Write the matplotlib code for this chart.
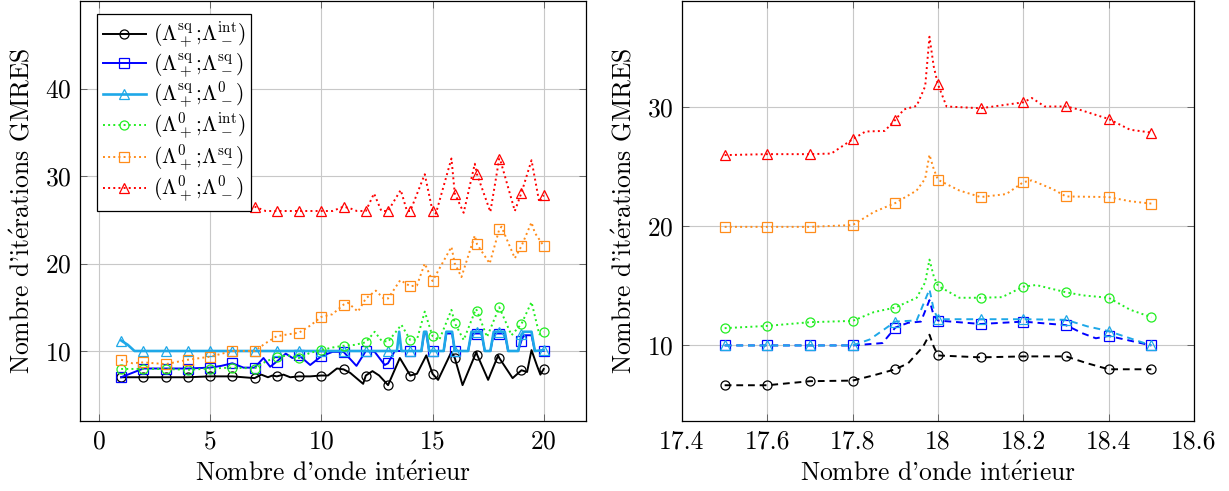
import numpy as np
import matplotlib
matplotlib.use("Agg")
import matplotlib.pyplot as plt

plt.rcParams['font.family'] = ['cmr10', 'DejaVu Serif']
plt.rcParams['mathtext.fontset'] = 'cm'
plt.rcParams['axes.unicode_minus'] = False
plt.rcParams['axes.formatter.use_mathtext'] = True

# ---------------- Left panel data ----------------
bk_x = [1, 2, 3, 4, 4.5, 5, 6, 6.5, 7, 7.3, 7.6, 7.8, 8, 8.3, 8.6, 9, 9.5, 10, 10.3, 10.7, 11, 11.3, 11.88,
        12, 12.3, 12.6, 13, 13.53, 14, 14.3, 14.72, 15, 15.25, 15.85, 16, 16.35, 16.97, 17, 17.5, 17.95, 18,
        18.6, 19, 19.25, 19.45, 19.7, 19.85, 20]
bk_y = [7.0, 7.0, 7.0, 7.0, 7.05, 7.1, 7.1, 7.0, 6.9, 7.3, 7.0, 7.2, 7.1, 7.3, 7.0, 7.1, 7.1, 7.2, 7.2, 8.0, 7.9, 7.5, 6.25,
        7.2, 7.7, 7.2, 6.1, 9.2, 7.2, 7.4, 9.5, 7.4, 6.7, 9.9, 9.2, 6.1, 9.9, 9.6, 6.7, 9.5, 9.2,
        6.9, 7.8, 7.6, 10.1, 8.3, 7.3, 7.95]

bl_x = [1, 1.5, 2, 3, 4, 5, 5.5, 6, 6.5, 7, 7.4, 7.7, 8, 8.4, 8.7, 9, 9.5, 10, 10.5, 11, 11.58, 12, 12.4, 12.85,
        13, 13.3, 14, 14.5, 14.62, 14.72, 14.85, 15, 15.5, 15.62, 15.88, 16, 16.6, 16.75, 17, 17.2, 17.35, 17.6,
        17.75, 18, 18.25, 18.4, 18.85, 19, 19.1, 19.45, 19.6, 20]
bl_y = [7.0, 7.5, 8.0, 8.0, 8.0, 8.1, 8.3, 8.6, 8.1, 8.1, 9.2, 8.2, 8.8, 9.7, 9.2, 9.5, 8.4, 9.4, 9.9, 9.9, 8.3, 10.0, 9.9, 8.4,
        8.6, 10.0, 10.0, 10.0, 12.0, 12.0, 10.0, 10.0, 10.0, 12.0, 12.0, 10.0, 10.0, 12.0, 12.0, 12.0, 10.0, 10.0,
        12.0, 12.0, 12.0, 10.0, 10.0, 11.2, 11.8, 11.8, 10.0, 10.0]

cy_x = [1, 1.3, 1.6, 2, 3, 4, 5, 6, 7, 8, 9, 10, 11, 12, 13, 13.4, 13.5, 13.6, 14, 14.5, 14.62, 14.72, 14.85, 15,
        15.5, 15.62, 15.88, 16, 16.6, 16.75, 17, 17.2, 17.35, 17.6, 17.75, 18, 18.25, 18.4, 18.85, 19, 19.1,
        19.45, 19.6, 20]
cy_y = [11.2, 10.7, 10.0, 10.0, 10.0, 10.0, 10.0, 10.0, 10.0, 10.0, 10.0, 10.0, 10.0, 10.0, 10.0, 10.0, 12.2, 10.0, 10.0,
        10.0, 12.2, 12.2, 10.0, 10.0, 10.0, 12.2, 12.2, 10.0, 10.0, 12.2, 12.2, 12.2, 10.0, 10.0, 12.2, 12.2, 12.2,
        10.0, 10.0, 11.9, 12.2, 12.2, 10.0, 10.1]

gr_x = [1, 2, 3, 4, 5, 6, 7, 7.5, 8, 8.5, 9, 9.5, 10, 10.5, 11, 11.5, 12, 12.4, 12.7, 13, 13.6, 14, 14.3, 14.65,
        15, 15.3, 15.85, 16, 16.4, 16.95, 17, 17.45, 18, 18.55, 19, 19.45, 19.8, 20]
gr_y = [7.95, 7.95, 7.95, 7.85, 8.0, 8.1, 8.0, 8.8, 9.3, 9.5, 9.2, 9.8, 10.1, 10.4, 10.6, 10.7, 11.0, 12.2, 11.2, 11.05,
        13.0, 11.25, 11.3, 14.5, 11.7, 11.25, 14.7, 13.2, 11.25, 14.8, 14.6, 11.6, 15.0, 11.8, 13.1, 15.6, 11.9, 12.2]

or_x = [1, 1.5, 2, 3, 4, 5, 6, 7, 7.5, 8, 8.5, 9, 9.5, 10, 10.5, 11, 11.2, 11.65, 12, 12.45, 12.8, 13, 13.55, 14,
        14.3, 14.65, 15, 15.85, 16, 16.3, 16.9, 17, 17.57, 18, 18.1, 18.7, 19, 19.45, 19.6, 20]
or_y = [9.0, 8.6, 8.7, 8.5, 9.0, 9.35, 10.0, 10.0, 10.9, 11.7, 11.9, 12.1, 12.9, 13.9, 14.2, 15.3, 15.5, 14.5, 16.0, 16.9,
        16.0, 16.0, 18.1, 17.4, 17.5, 20.0, 18.0, 21.9, 20.0, 18.45, 23.2, 22.2, 20.0, 23.9, 24.2, 20.6, 22.0, 24.7,
        23.5, 22.0]

rd_x = [7, 7.5, 8, 9, 10, 10.5, 11, 11.3, 11.6, 12, 12.37, 12.7, 13, 13.57, 13.85, 14, 14.65, 15, 15.15, 15.85, 16,
        16.4, 16.9, 17, 17.6, 18, 18.05, 18.7, 19, 19.45, 19.8, 20]
rd_y = [26.5, 26.0, 26.0, 26.0, 26.0, 26.0, 26.5, 26.3, 26.0, 26.0, 28.0, 26.0, 26.0, 28.4, 26.0, 26.0, 30.2, 26.0, 25.7,
        32.0, 28.0, 25.8, 31.4, 30.2, 25.9, 32.0, 31.8, 26.0, 28.1, 31.8, 27.0, 27.8]

# ---------------- Right panel data ----------------
rbk_x = [17.5, 17.6, 17.7, 17.8, 17.85, 17.9, 17.93, 17.965, 17.98, 17.99, 18.0, 18.1, 18.2, 18.3, 18.35, 18.4, 18.5]
rbk_y = [6.66, 6.66, 7.0, 7.05, 7.5, 8.0, 8.5, 9.9, 10.9, 9.9, 9.16, 9.0, 9.08, 9.08, 8.5, 8.0, 8.0]

rbl_x = [17.5, 17.6, 17.7, 17.8, 17.87, 17.9, 17.93, 17.96, 17.98, 17.99, 18.0, 18.1, 18.2, 18.3, 18.34, 18.37, 18.4, 18.5]
rbl_y = [10.0, 10.0, 10.0, 10.0, 10.2, 11.5, 11.9, 12.0, 13.8, 12.5, 12.09, 11.8, 12.0, 11.7, 11.0, 10.6, 10.8, 10.0]

rcy_x = [17.5, 17.6, 17.7, 17.8, 17.84, 17.9, 17.95, 17.98, 17.99, 18.0, 18.1, 18.2, 18.3, 18.35, 18.4, 18.5]
rcy_y = [10.0, 10.0, 10.0, 10.0, 10.5, 12.0, 12.1, 14.7, 13.0, 12.2, 12.2, 12.2, 12.15, 11.6, 11.2, 10.0]

rgr_x = [17.5, 17.6, 17.7, 17.8, 17.85, 17.9, 17.95, 17.97, 17.98, 17.99, 18.0, 18.05, 18.1, 18.15, 18.2, 18.23,
         18.3, 18.34, 18.4, 18.45, 18.5]
rgr_y = [11.45, 11.64, 11.95, 12.06, 12.8, 13.18, 14.0, 15.3, 17.2, 15.8, 15.0, 14.0, 14.0, 14.05, 14.93, 15.07,
         14.46, 14.2, 14.0, 13.0, 12.37]

ror_x = [17.5, 17.6, 17.7, 17.8, 17.85, 17.9, 17.95, 17.97, 17.98, 17.99, 18.0, 18.05, 18.1, 18.16, 18.2, 18.22,
         18.27, 18.3, 18.4, 18.45, 18.5]
ror_y = [19.95, 19.95, 19.95, 20.1, 21.2, 21.95, 23.0, 24.0, 26.0, 24.8, 23.9, 23.0, 22.45, 22.7, 23.7, 23.85,
         23.1, 22.5, 22.45, 22.1, 21.9]

rrd_x = [17.5, 17.6, 17.7, 17.75, 17.8, 17.83, 17.875, 17.9, 17.92, 17.95, 17.97, 17.98, 17.99, 18.0, 18.02, 18.1,
         18.2, 18.22, 18.25, 18.3, 18.33, 18.4, 18.45, 18.5]
rrd_y = [25.97, 26.05, 26.05, 26.1, 27.3, 27.95, 28.0, 28.93, 29.8, 30.1, 31.75, 35.9, 33.4, 31.9, 30.05, 29.9,
         30.4, 30.76, 30.05, 30.05, 29.8, 29.0, 28.1, 27.86]

labels = [r"$(\Lambda_+^{\rm sq}$;$\Lambda_-^{\rm int})$",
          r"$(\Lambda_+^{\rm sq}$;$\Lambda_-^{\rm sq})$",
          r"$(\Lambda_+^{\rm sq}$;$\Lambda_-^{0})$",
          r"$(\Lambda_+^{0}$;$\Lambda_-^{\rm int})$",
          r"$(\Lambda_+^{0}$;$\Lambda_-^{\rm sq})$",
          r"$(\Lambda_+^{0}$;$\Lambda_-^{0})$"]
colors = ['black', '#0000FF', '#1EA8E8', '#22EE22', '#FF8C1A', '#FF0000']
markers = ['o', 's', '^', 'o', 's', '^']

FS = 18.4
LFS = 15.5
xlabel_txt = r"Nombre d'onde int$\acute{\rm e}$rieur"
ylabel_txt = r"Nombre d'it$\acute{\rm e}$rations GMRES"


def mark_idx(xs, step):
    xs = np.asarray(xs, float)
    q = xs / step
    return [i for i, v in enumerate(q) if abs(v - round(v)) < 1e-6]


fig = plt.figure(figsize=(12.29, 4.91), dpi=100)
axL = fig.add_axes([80 / 1229, 70 / 491, 506 / 1229, 420 / 491])
axR = fig.add_axes([682 / 1229, 70 / 491, 512 / 1229, 420 / 491])

left_series = [(bk_x, bk_y), (bl_x, bl_y), (cy_x, cy_y), (gr_x, gr_y), (or_x, or_y), (rd_x, rd_y)]
left_styles = ['-', '-', '-', ':', ':', ':']
left_lw = [1.4, 1.4, 1.9, 1.4, 1.4, 1.4]
for (xs, ys), c, m, ls, lw, lab in zip(left_series, colors, markers, left_styles, left_lw, labels):
    axL.plot(xs, ys, color=c, ls=ls, lw=lw, marker=m, markersize=6.5, markerfacecolor='none',
             markeredgewidth=0.9, markevery=mark_idx(xs, 1.0), label=lab)

right_series = [(rbk_x, rbk_y), (rbl_x, rbl_y), (rcy_x, rcy_y), (rgr_x, rgr_y), (ror_x, ror_y), (rrd_x, rrd_y)]
dash = (0, (3.5, 2.5))
right_styles = [dash, dash, dash, ':', ':', ':']
for (xs, ys), c, m, ls in zip(right_series, colors, markers, right_styles):
    axR.plot(xs, ys, color=c, ls=ls, lw=1.4, marker=m, markersize=6.5, markerfacecolor='none',
             markeredgewidth=0.9, markevery=mark_idx(xs, 0.1))

for ax in (axL, axR):
    ax.grid(True, color='#c8c8c8', lw=0.8)
    ax.set_axisbelow(True)
    ax.tick_params(direction='in', top=True, right=True, length=5, width=0.6, color='#555555',
                   labelsize=FS, pad=6)
    for s in ax.spines.values():
        s.set_linewidth(0.9)
    ax.set_ylabel(ylabel_txt, fontsize=FS, labelpad=8)
    ax.set_xlabel(xlabel_txt, fontsize=FS, labelpad=6)

axL.set_xlim(-0.85, 21.9)
axL.set_ylim(2.0, 50.0)
axL.set_xticks([0, 5, 10, 15, 20])
axL.set_yticks([10, 20, 30, 40])

axR.set_xlim(17.4, 18.6)
axR.set_ylim(3.66, 38.9)
xt = [17.4, 17.6, 17.8, 18.0, 18.2, 18.4, 18.6]
axR.set_xticks(xt)
axR.set_xticklabels(["17.4", "17.6", "17.8", "18", "18.2", "18.4", "18.6"])
axR.set_yticks([10, 20, 30])

leg = axL.legend(loc='upper left', bbox_to_anchor=(0.034, 0.969), borderaxespad=0, fontsize=LFS,
                 fancybox=False, edgecolor='black', framealpha=1, handlelength=2.0, labelspacing=0.0,
                 borderpad=0.25, handletextpad=0.35)
leg.get_frame().set_linewidth(0.9)

fig.savefig("out.png", dpi=100)
